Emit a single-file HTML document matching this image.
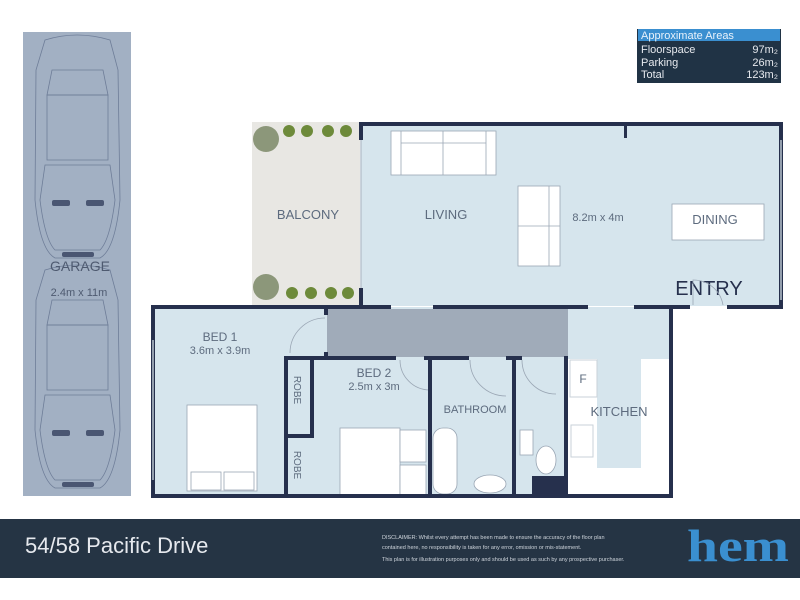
<!DOCTYPE html>
<html><head><meta charset="utf-8"><style>
html,body{margin:0;padding:0;background:#fff;}
svg{display:block;font-family:"Liberation Sans",sans-serif;}
</style></head><body>
<svg width="800" height="600" viewBox="0 0 800 600" xmlns="http://www.w3.org/2000/svg">
<rect width="800" height="600" fill="#fff"/>
<rect x="23" y="32" width="108" height="464" fill="#a2b0c3"/>
<g fill="none" stroke="#6e7d98" stroke-width="0.8">
 <path d="M45 40 Q77 30 110 40 L118 70 L120 200 Q115 250 100 258 L55 258 Q40 250 35 200 L36 70 Z"/>
 <path d="M52 70 L103 70 L108 95 L47 95 Z"/>
 <path d="M47 95 L108 95 L108 160 L47 160 Z"/>
 <path d="M45 165 L110 165 L115 200 Q110 240 100 250 L55 250 Q45 240 40 200 Z"/>
 <path d="M45 270 Q77 260 110 270 L118 300 L120 430 Q115 480 100 488 L55 488 Q40 480 35 430 L36 300 Z"/>
 <path d="M52 300 L103 300 L108 325 L47 325 Z"/>
 <path d="M47 325 L108 325 L108 390 L47 390 Z"/>
 <path d="M45 395 L110 395 L115 430 Q110 470 100 480 L55 480 Q45 470 40 430 Z"/>
</g>
<g fill="#4a5672"><rect x="52" y="200" width="18" height="6" rx="2"/><rect x="86" y="200" width="18" height="6" rx="2"/><rect x="52" y="430" width="18" height="6" rx="2"/><rect x="86" y="430" width="18" height="6" rx="2"/><rect x="62" y="252" width="32" height="5" rx="2"/><rect x="62" y="482" width="32" height="5" rx="2"/></g>
<text x="80" y="271" font-size="14" fill="#4e5a70" text-anchor="middle">GARAGE</text>
<text x="79" y="296" font-size="11" fill="#4e5a70" text-anchor="middle">2.4m x 11m</text>

<rect x="637" y="29" width="144" height="54" fill="#203345"/>
<rect x="638" y="29" width="142" height="12" fill="#3a8fd0"/>
<text x="641" y="39" font-size="11" fill="#e8f2fb">Approximate Areas</text>
<g font-size="11" fill="#e6e9ee">
<text x="641" y="53">Floorspace</text><text x="778" y="53" text-anchor="end">97m₂</text>
<text x="641" y="66">Parking</text><text x="778" y="66" text-anchor="end">26m₂</text>
<text x="641" y="78">Total</text><text x="778" y="78" text-anchor="end">123m₂</text>
</g>

<rect x="252" y="122" width="108" height="183" fill="#e8e7e3"/>
<g fill="#6d8a3a">
<circle cx="266" cy="139" r="13" fill="#8c977a"/><circle cx="266" cy="287" r="13" fill="#8c977a"/>
<circle cx="289" cy="131" r="6"/><circle cx="307" cy="131" r="6"/><circle cx="328" cy="131" r="6"/><circle cx="346" cy="131" r="6"/>
<circle cx="292" cy="293" r="6"/><circle cx="311" cy="293" r="6"/><circle cx="331" cy="293" r="6"/><circle cx="348" cy="293" r="6"/>
</g>
<text x="308" y="219" font-size="13" fill="#5d6b7e" text-anchor="middle">BALCONY</text>

<rect x="361" y="124" width="422" height="182" fill="#d6e5ed"/>
<rect x="152" y="307" width="520" height="190" fill="#d6e5ed"/>
<rect x="327" y="309" width="241" height="48" fill="#a0abb9"/>
<rect x="568" y="359" width="102" height="138" fill="#fff"/>
<rect x="597" y="359" width="44" height="109" fill="#d6e5ed"/>
<rect x="570" y="360" width="27" height="37" fill="#fff" stroke="#c9d2d9"/>
<text x="583" y="383" font-size="12" fill="#5d6b7e" text-anchor="middle">F</text>
<rect x="571" y="425" width="22" height="32" fill="#fff" stroke="#c9d2d9"/>
<rect x="673" y="307" width="127" height="200" fill="#fff"/>

<g fill="#fff" stroke="#9aa6b4" stroke-width="0.8">
<rect x="391" y="131" width="105" height="44"/><line x1="401" y1="131" x2="401" y2="175"/><line x1="486" y1="131" x2="486" y2="175"/><line x1="443" y1="131" x2="443" y2="175"/><line x1="401" y1="143" x2="486" y2="143"/>
<rect x="518" y="186" width="42" height="80"/><line x1="549" y1="186" x2="549" y2="266"/><line x1="518" y1="226" x2="560" y2="226"/>
<rect x="672" y="204" width="92" height="36"/>
<rect x="187" y="405" width="70" height="86"/><rect x="191" y="472" width="30" height="18"/><rect x="224" y="472" width="30" height="18"/>
<rect x="340" y="428" width="60" height="68"/><rect x="400" y="430" width="26" height="32"/><rect x="400" y="465" width="26" height="30"/>
<rect x="433" y="428" width="24" height="66" rx="10"/>
<ellipse cx="490" cy="484" rx="16" ry="9"/>
<rect x="520" y="430" width="13" height="25"/>
<ellipse cx="546" cy="460" rx="10" ry="14"/>
</g>
<text x="715" y="224" font-size="13" fill="#5d6b7e" text-anchor="middle">DINING</text>
<text x="446" y="219" font-size="13" fill="#5d6b7e" text-anchor="middle">LIVING</text>
<text x="598" y="221" font-size="11" fill="#5d6b7e" text-anchor="middle">8.2m x 4m</text>
<text x="709" y="295" font-size="20" fill="#26304d" text-anchor="middle">ENTRY</text>
<text x="220" y="341" font-size="12" fill="#5d6b7e" text-anchor="middle">BED 1</text>
<text x="220" y="354" font-size="11" fill="#5d6b7e" text-anchor="middle">3.6m x 3.9m</text>
<text x="374" y="377" font-size="12" fill="#5d6b7e" text-anchor="middle">BED 2</text>
<text x="374" y="390" font-size="11" fill="#5d6b7e" text-anchor="middle">2.5m x 3m</text>
<text x="475" y="413" font-size="11" fill="#5d6b7e" text-anchor="middle">BATHROOM</text>
<text x="619" y="416" font-size="13" fill="#5d6b7e" text-anchor="middle">KITCHEN</text>
<text transform="translate(294,390) rotate(90)" font-size="10" fill="#5d6b7e" text-anchor="middle">ROBE</text>
<text transform="translate(294,465) rotate(90)" font-size="10" fill="#5d6b7e" text-anchor="middle">ROBE</text>

<g fill="none" stroke="#9aa6b4" stroke-width="0.8">
<path d="M325 318 A35 35 0 0 0 290 353"/>
<path d="M470 360 A36 36 0 0 0 506 396"/>
<path d="M522 360 A34 34 0 0 0 556 394"/>
<path d="M400 360 A30 30 0 0 0 430 390"/>
<path d="M693 305 L693 280 A30 30 0 0 1 723 305"/>
</g>

<g fill="#26304d">
<rect x="359" y="122" width="424" height="4"/>
<rect x="779" y="122" width="4" height="186"/>
<rect x="359" y="122" width="4" height="18"/>
<rect x="359" y="288" width="4" height="20"/>
<rect x="624" y="124" width="3" height="14"/>
<rect x="151" y="305" width="240" height="4"/>
<rect x="433" y="305" width="155" height="4"/>
<rect x="634" y="305" width="56" height="4"/>
<rect x="727" y="305" width="56" height="4"/>
<rect x="151" y="305" width="4" height="193"/>
<rect x="669" y="305" width="4" height="193"/>
<rect x="151" y="494" width="522" height="4"/>
<rect x="324" y="305" width="4" height="10"/>
<rect x="324" y="352" width="4" height="8"/>
<rect x="284" y="356" width="112" height="4"/>
<rect x="424" y="356" width="45" height="4"/>
<rect x="506" y="356" width="16" height="4"/>
<rect x="284" y="356" width="4" height="140"/>
<rect x="284" y="434" width="30" height="4"/>
<rect x="310" y="356" width="4" height="80"/>
<rect x="428" y="356" width="4" height="140"/>
<rect x="512" y="356" width="4" height="140"/>
<rect x="564" y="356" width="4" height="140"/>
<rect x="532" y="476" width="34" height="20"/>
</g>
<g stroke="#b8c4cf" stroke-width="1.5"><line x1="361" y1="140" x2="361" y2="288"/><line x1="781" y1="140" x2="781" y2="300"/><line x1="153" y1="340" x2="153" y2="480"/></g>

<rect x="0" y="519" width="800" height="59" fill="#253444"/>
<text x="25" y="553" font-size="22" fill="#e6e9ee">54/58 Pacific Drive</text>
<g font-size="5.5" fill="#cfd5dc">
<text x="382" y="539">DISCLAIMER: Whilst every attempt has been made to ensure the accuracy of the floor plan</text>
<text x="382" y="549">contained here, no responsibility is taken for any error, omission or mis-statement.</text>
<text x="382" y="561">This plan is for illustration purposes only and should be used as such by any prospective purchaser.</text>
</g>
<text x="687" y="561" font-size="46" font-weight="bold" font-family="Liberation Serif,serif" fill="#3a8fd0" textLength="102" lengthAdjust="spacingAndGlyphs">hem</text>
</svg>
</body></html>
